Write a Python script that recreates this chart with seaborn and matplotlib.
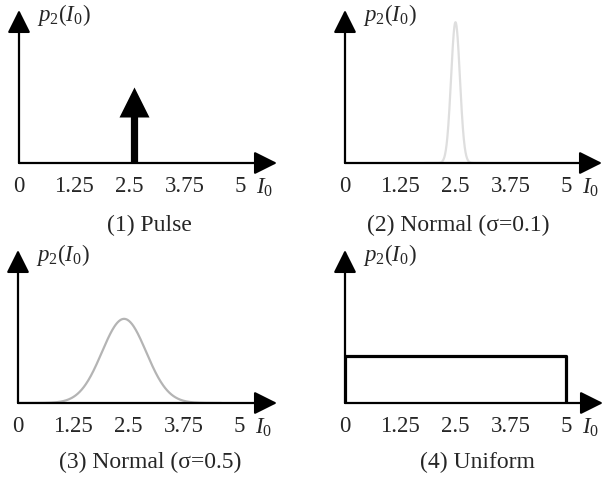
import numpy as np
import matplotlib
matplotlib.use("Agg")
import matplotlib.pyplot as plt
import seaborn as sns

# values
ticks = [0, 1.25, 2.5, 3.75, 5]
tick_labels = ["0", "1.25", "2.5", "3.75", "5"]
titles = ["(1) Pulse", "(2) Normal (σ=0.1)", "(3) Normal (σ=0.5)", "(4) Uniform"]

pulse_x = 2.6
pulse_height = 0.5

normal_mu = [2.5, 2.4]
normal_sigma = [0.1, 0.5]
normal_peak = [0.92, 0.55]
normal_span = [(1.8, 3.2), (0.0, 4.6)]
normal_color = ["#dedede", "#b4b4b4"]

uniform_low = 0
uniform_high = 5
uniform_height = 0.31

sns.set_style("white")
plt.rcParams["font.family"] = ["Liberation Serif", "DejaVu Serif"]
plt.rcParams["mathtext.fontset"] = "custom"
plt.rcParams["mathtext.rm"] = "Liberation Serif"
plt.rcParams["mathtext.it"] = "Liberation Serif:italic"

W, H = 603, 480
fig = plt.figure(figsize=(W / 100, H / 100), dpi=100)

# panel origin (px from top-left), right arrow tip, top arrow tip
panels = [(19, 163, 277, 10), (345, 163, 602, 10),
          (18, 403, 277, 250), (345, 403, 603, 250)]
px_per_unit = 44.2

axes = []
for (x0, base, xr, yt) in panels:
    ax = fig.add_axes([x0 / W, 1 - base / H, (xr - x0) / W, (base - yt) / H])
    ax.set_xlim(0, (xr - x0) / px_per_unit)
    ax.set_ylim(0, 1)
    for s in ax.spines.values():
        s.set_visible(False)
    ax.set_facecolor("none")
    ax.set_xticks(ticks)
    ax.set_xticklabels(tick_labels, fontsize=16.5)
    ax.set_yticks([])
    ax.tick_params(axis="x", length=0, pad=9)
    arrow = dict(arrowstyle="-|>,head_length=1.4,head_width=0.7", lw=1.6,
                 color="black", shrinkA=0, shrinkB=0)
    ax.annotate("", xy=(1, 0), xytext=(0, 0), xycoords="axes fraction",
                arrowprops=arrow, annotation_clip=False)
    ax.annotate("", xy=(0, 1), xytext=(0, 0), xycoords="axes fraction",
                arrowprops=arrow, annotation_clip=False)
    ax.text(5.55, -0.16, "$I_0$", fontsize=16.5, ha="center", va="center")
    ax.text(0.41, 0.965, "$p_2(I_0)$", fontsize=16.5, ha="left", va="center")
    axes.append(ax)

# (1) pulse
ax = axes[0]
sns.lineplot(x=[pulse_x, pulse_x], y=[0, pulse_height * 0.65], ax=ax,
             estimator=None, sort=False, color="black", lw=5.2,
             solid_capstyle="butt")
sns.scatterplot(x=[pulse_x], y=[pulse_height * 0.8], ax=ax, marker="^",
                s=21.6 ** 2, color="black", linewidth=0)

# (2), (3) normal curves
for i in range(2):
    ax = axes[i + 1]
    xs = np.linspace(normal_span[i][0], normal_span[i][1], 400)
    ys = normal_peak[i] * np.exp(-0.5 * ((xs - normal_mu[i]) / normal_sigma[i]) ** 2)
    sns.lineplot(x=xs, y=ys, ax=ax, color=normal_color[i], lw=1.6)

# (4) uniform
ax = axes[3]
ux = [uniform_low, uniform_low, uniform_high, uniform_high]
uy = [0, uniform_height, uniform_height, 0]
sns.lineplot(x=ux, y=uy, ax=ax, sort=False, estimator=None,
             color="black", lw=2.3)

title_pos = [(149, 225), (458, 225), (150, 462), (477, 462)]
for t, (tx, ty) in zip(titles, title_pos):
    fig.text(tx / W, 1 - ty / H, t, fontsize=17, ha="center", va="center")

fig.savefig("out.png", dpi=100)
